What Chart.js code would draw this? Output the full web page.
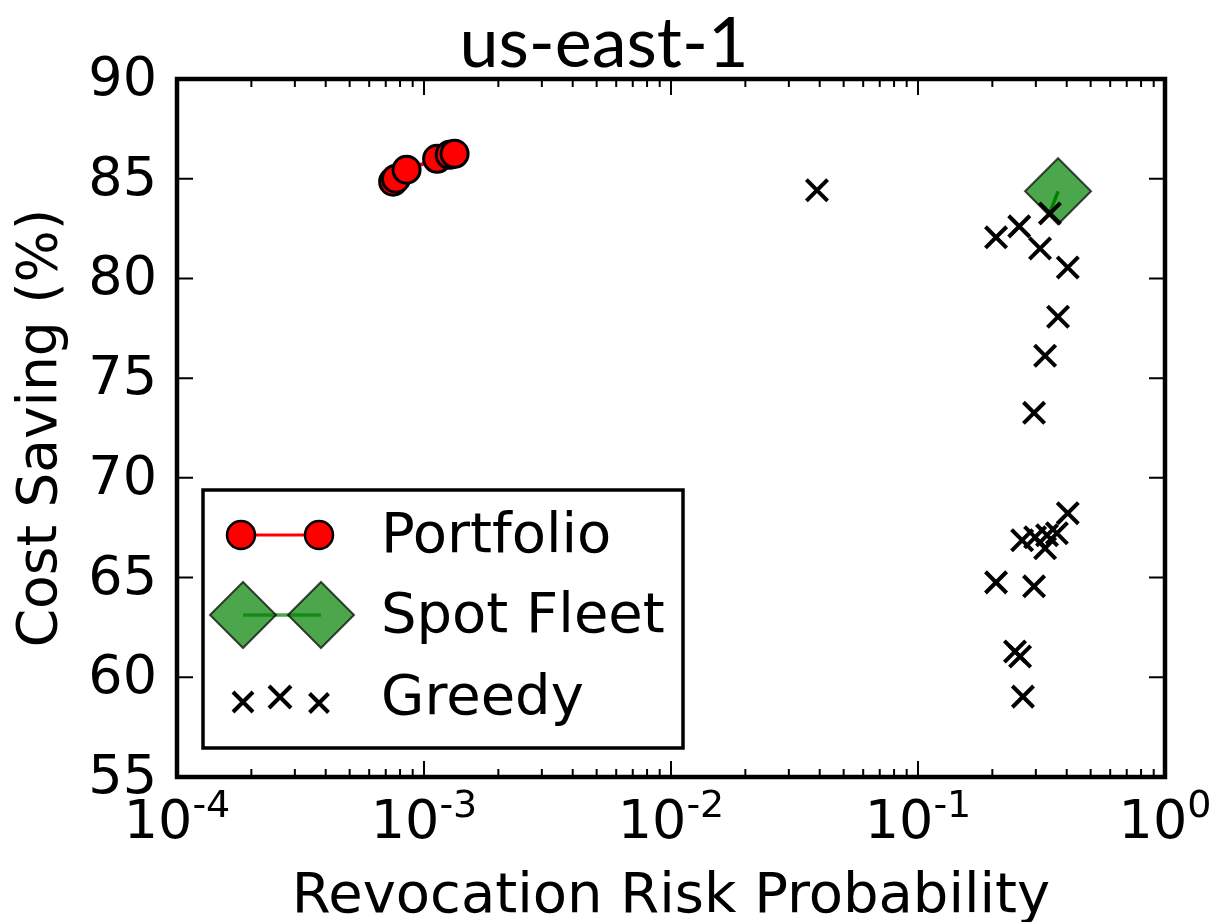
<!DOCTYPE html>
<html>
  <head>
    <script src="https://cdn.jsdelivr.net/npm/chart.js@4/dist/chart.umd.min.js"></script>
    <style>
      body { margin: 0; background: #fff; }
    </style>
  </head>
  <body>
    <canvas id="myChart" width="1217" height="922"></canvas>

    <script>
      // values
      var portfolioRisk = [7.5e-4, 7.7e-4, 8.5e-4, 1.13e-3, 1.27e-3, 1.33e-3];
      var portfolioSaving = [84.85, 85.0, 85.45, 86.0, 86.2, 86.25];

      var spotRisk = [0.342, 0.369];
      var spotSaving = [83.3, 84.37];

      var greedyRisk = [0.039, 0.207, 0.257, 0.342, 0.312, 0.404, 0.369, 0.327, 0.295,
        0.404, 0.365, 0.333, 0.264, 0.298, 0.327, 0.207, 0.295, 0.247, 0.259, 0.266];
      var greedySaving = [84.42, 82.06, 82.61, 83.26, 81.5, 80.55, 78.08, 76.12, 73.26,
        68.23, 67.22, 67.12, 66.87, 67.02, 66.47, 64.76, 64.56, 61.29, 61.04, 59.03];

      var xTickPowers = [-4, -3, -2, -1, 0];
      var yTickValues = [55, 60, 65, 70, 75, 80, 85, 90];

      var FONT = '"DejaVu Sans", sans-serif';

      function points(xs, ys) {
        return xs.map(function (x, i) { return { x: x, y: ys[i] }; });
      }

      // axes, ticks, labels and legend in matplotlib style
      var frame = {
        id: "frame",
        beforeDraw: function (chart) {
          var ctx = chart.ctx;
          ctx.save();
          ctx.fillStyle = "#fff";
          ctx.fillRect(0, 0, chart.width, chart.height);
          ctx.restore();
        },
        afterDraw: function (chart) {
          var ctx = chart.ctx;
          var a = chart.chartArea;
          var xs = chart.scales.x;
          var ys = chart.scales.y;
          ctx.save();
          ctx.strokeStyle = "#000";
          ctx.fillStyle = "#000";

          // ticks pointing inward
          ctx.lineWidth = 2;
          xTickPowers.forEach(function (p) {
            var px = xs.getPixelForValue(Math.pow(10, p));
            ctx.beginPath();
            ctx.moveTo(px, a.bottom); ctx.lineTo(px, a.bottom - 16);
            ctx.moveTo(px, a.top); ctx.lineTo(px, a.top + 16);
            ctx.stroke();
            if (p < 0) {
              for (var m = 2; m < 10; m++) {
                var mx = xs.getPixelForValue(m * Math.pow(10, p));
                ctx.beginPath();
                ctx.moveTo(mx, a.bottom); ctx.lineTo(mx, a.bottom - 8);
                ctx.moveTo(mx, a.top); ctx.lineTo(mx, a.top + 8);
                ctx.stroke();
              }
            }
          });
          yTickValues.forEach(function (v) {
            var py = ys.getPixelForValue(v);
            ctx.beginPath();
            ctx.moveTo(a.left, py); ctx.lineTo(a.left + 16, py);
            ctx.moveTo(a.right, py); ctx.lineTo(a.right - 16, py);
            ctx.stroke();
          });

          // spines
          ctx.lineWidth = 4.5;
          ctx.strokeRect(a.left, a.top, a.right - a.left, a.bottom - a.top);

          // y tick labels
          ctx.font = "54px " + FONT;
          ctx.textAlign = "right";
          ctx.textBaseline = "middle";
          yTickValues.forEach(function (v) {
            ctx.fillText(String(v), a.left - 20, ys.getPixelForValue(v) + 2);
          });

          // x tick labels: 10 with superscript power
          ctx.textBaseline = "alphabetic";
          ctx.textAlign = "left";
          xTickPowers.forEach(function (p) {
            var px = xs.getPixelForValue(Math.pow(10, p));
            ctx.font = "54px " + FONT;
            var base = "10";
            var bw = ctx.measureText(base).width;
            ctx.font = "38px " + FONT;
            var sup = p === 0 ? "0" : "-" + Math.abs(p);
            var sw = ctx.measureText(sup).width;
            var left = px - (bw + sw) / 2;
            ctx.font = "54px " + FONT;
            ctx.fillText(base, left, a.bottom + 61);
            ctx.font = "38px " + FONT;
            ctx.fillText(sup, left + bw, a.bottom + 40);
          });

          // axis titles
          ctx.font = "56px " + FONT;
          ctx.textAlign = "center";
          ctx.fillText("Revocation Risk Probability", (a.left + a.right) / 2, 912);
          ctx.save();
          ctx.translate(56, (a.top + a.bottom) / 2);
          ctx.rotate(-Math.PI / 2);
          ctx.font = "55px " + FONT;
          ctx.fillText("Cost Saving (%)", 0, 0);
          ctx.restore();

          // title
          ctx.font = '70px Lato, "Open Sans", sans-serif';
          ctx.fillText("us-east-1", 604, 67);

          // legend box
          var lx = 203, ly = 490, lw = 480, lh = 258;
          ctx.fillStyle = "#fff";
          ctx.fillRect(lx, ly, lw, lh);
          ctx.lineWidth = 3.5;
          ctx.strokeStyle = "#000";
          ctx.strokeRect(lx, ly, lw, lh);

          // Portfolio entry
          var r1 = 535;
          ctx.strokeStyle = "red";
          ctx.lineWidth = 3;
          ctx.beginPath(); ctx.moveTo(241, r1); ctx.lineTo(319, r1); ctx.stroke();
          [241, 319].forEach(function (cx) {
            ctx.beginPath();
            ctx.arc(cx, r1, 14, 0, Math.PI * 2);
            ctx.fillStyle = "red"; ctx.fill();
            ctx.lineWidth = 2.5; ctx.strokeStyle = "#000"; ctx.stroke();
          });

          // Spot Fleet entry
          var r2 = 615;
          ctx.strokeStyle = "rgba(0,128,0,0.7)";
          ctx.lineWidth = 3.5;
          ctx.beginPath(); ctx.moveTo(243, r2); ctx.lineTo(321, r2); ctx.stroke();
          [243, 321].forEach(function (cx) {
            ctx.beginPath();
            ctx.moveTo(cx - 33, r2); ctx.lineTo(cx, r2 - 33);
            ctx.lineTo(cx + 33, r2); ctx.lineTo(cx, r2 + 33);
            ctx.closePath();
            ctx.fillStyle = "rgba(0,128,0,0.7)"; ctx.fill();
            ctx.lineWidth = 2; ctx.strokeStyle = "rgba(0,0,0,0.7)"; ctx.stroke();
          });

          // Greedy entry
          ctx.strokeStyle = "#000";
          ctx.lineWidth = 4;
          [[243, 702, 10], [280, 697, 11], [319, 703, 9.5]].forEach(function (c) {
            ctx.beginPath();
            ctx.moveTo(c[0] - c[2], c[1] - c[2]); ctx.lineTo(c[0] + c[2], c[1] + c[2]);
            ctx.moveTo(c[0] - c[2], c[1] + c[2]); ctx.lineTo(c[0] + c[2], c[1] - c[2]);
            ctx.stroke();
          });

          // legend texts
          ctx.fillStyle = "#000";
          ctx.font = "56px " + FONT;
          ctx.textAlign = "left";
          ctx.textBaseline = "middle";
          ctx.fillText("Portfolio", 381, r1 + 2);
          ctx.fillText("Spot Fleet", 381, r2 + 2);
          ctx.fillText("Greedy", 381, 697 + 2);

          ctx.restore();
        },
      };

      var ctx = document.getElementById("myChart").getContext("2d");
      var myChart = new Chart(ctx, {
        type: "scatter",
        data: {
          datasets: [
            {
              label: "Greedy",
              data: points(greedyRisk, greedySaving),
              pointStyle: "crossRot",
              pointRadius: 15,
              pointBorderWidth: 4,
              pointBorderColor: "#000",
              order: 0,
            },
            {
              label: "Spot Fleet",
              data: points(spotRisk, spotSaving),
              showLine: true,
              borderColor: "green",
              borderWidth: 3.5,
              pointStyle: "rectRot",
              pointRadius: [0, 33],
              pointBackgroundColor: "rgba(0,128,0,0.7)",
              pointBorderColor: "rgba(0,0,0,0.7)",
              pointBorderWidth: 2,
              order: 1,
            },
            {
              label: "Portfolio",
              data: points(portfolioRisk, portfolioSaving),
              showLine: true,
              borderColor: "red",
              borderWidth: 3.5,
              pointStyle: "circle",
              pointRadius: 13.5,
              pointBackgroundColor: "red",
              pointBorderColor: "#000",
              pointBorderWidth: 3,
              order: 2,
            },
          ],
        },
        options: {
          responsive: false,
          animation: false,
          layout: { padding: { left: 177, right: 52, top: 79, bottom: 145 } },
          scales: {
            x: { type: "logarithmic", min: 1e-4, max: 1, display: false },
            y: { type: "linear", min: 55, max: 90, display: false },
          },
          plugins: {
            legend: { display: false },
            tooltip: { enabled: false },
          },
        },
        plugins: [frame],
      });
    </script>
  </body>
</html>
